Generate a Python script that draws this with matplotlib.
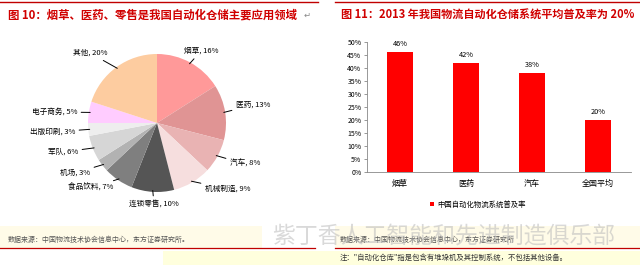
import matplotlib
matplotlib.use('Agg')
import matplotlib.pyplot as plt
from matplotlib.patches import Rectangle
import numpy as np

plt.rcParams['font.family'] = ['Noto Sans CJK SC', 'DejaVu Sans']

# pie data (fig 10)
pie_names = ['烟草', '医药', '汽车', '机械制造', '连锁零售', '食品饮料',
             '机场', '军队', '出版印刷', '电子商务', '其他']
pie_values = [16, 13, 8, 9, 10, 7, 3, 6, 3, 5, 20]
pie_colors = ['#ff9999', '#e09494', '#e9b3b3', '#f6dede', '#555555', '#7f7f7f',
              '#b2b2b2', '#d6d6d6', '#eeeeee', '#ffccff', '#fdcca0']

# bar data (fig 11)
bar_cats = ['烟草', '医药', '汽车', '全国平均']
bar_values = [46, 42, 38, 20]
bar_legend = '中国自动化物流系统普及率'

W, H = 640, 265
fig = plt.figure(figsize=(6.4, 2.65), dpi=100)
fig.patch.set_facecolor('white')

def fx(px):
    return px / W

def fy(py):
    return 1 - py / H

# background decorations
bg = fig.add_axes([0, 0, 1, 1], zorder=-5)
bg.set_xlim(0, W)
bg.set_ylim(H, 0)
bg.axis('off')
bg.add_patch(Rectangle((0, 226), 262, 22, color='#fffbe8', lw=0))
bg.add_patch(Rectangle((163, 251), 477, 14, color='#ffffdd', lw=0))
bg.add_patch(Rectangle((335, 226), 305, 22, color='#fffbe8', lw=0))
bg.plot([0, 318], [1.5, 1.5], color='#c00000', lw=1)
bg.plot([335, 640], [1.5, 1.5], color='#c00000', lw=1)
bg.plot([0, 315], [248, 248], color='#c00000', lw=0.9)
bg.plot([335, 640], [248, 248], color='#c00000', lw=0.9)

bg.text(8, 15, '图 10：烟草、医药、零售是我国自动化仓储主要应用领域',
        color='#d00000', fontsize=8.2, fontweight='bold', va='center')
bg.text(304, 15, '↵', color='#888888', fontsize=6, va='center')
bg.text(341, 15, '图 11：2013 年我国物流自动化仓储系统平均普及率为 20%',
        color='#d00000', fontsize=8, fontweight='bold', va='center')
bg.text(8, 240, '数据来源：中国物流技术协会信息中心，东方证券研究所。',
        color='#555555', fontsize=5, va='center')
bg.text(340, 240, '数据来源：中国物流技术协会信息中心，东方证券研究所',
        color='#555555', fontsize=5, va='center')
bg.text(340, 258, '注："自动化仓库"指是包含有堆垛机及其控制系统，不包括其他设备。',
        color='#333333', fontsize=5.3, va='center')
bg.text(272, 236, '紫丁香人工智能和先进制造俱乐部', color='#bbbbbb',
        fontsize=16.5, va='center', alpha=0.55, zorder=10)

# pie
cx, cy, r = 157, 123, 69
ax1 = fig.add_axes([fx(cx - r), fy(cy + r), fx(2 * r), 2 * r / H])
ax1.pie(pie_values, colors=pie_colors, startangle=90, counterclock=False,
        radius=1, wedgeprops=dict(linewidth=0))
ax1.set_xlim(-1, 1)
ax1.set_ylim(-1, 1)
ax1.set_aspect('auto')
ax1.axis('off')

# label positions (pixels) and alignment
label_pos = [(201, 51, 'center'), (236, 105, 'left'), (230, 164, 'left'),
             (205, 189, 'left'), (154, 204, 'center'), (113, 188, 'right'),
             (90, 173, 'right'), (78, 152, 'right'), (75, 132, 'right'),
             (77, 112, 'right'), (90, 53, 'center')]
start = 90.0
for name, v, (px, py, ha) in zip(pie_names, pie_values, label_pos):
    mid = np.deg2rad(start - v * 3.6 / 2)
    start -= v * 3.6
    ex, ey = np.cos(mid) * 0.98, np.sin(mid) * 0.98
    tx, ty = (px - cx) / r, (cy - py) / r
    ax1.annotate(f'{name}, {v}%', xy=(ex, ey), xytext=(tx, ty),
                 ha=ha, va='center', fontsize=5.5, annotation_clip=False,
                 arrowprops=dict(arrowstyle='-', color='black', lw=0.7,
                                 shrinkA=1, shrinkB=0))

# bar chart
ax2 = fig.add_axes([fx(367), fy(172), fx(264), 130 / H])
x = np.arange(len(bar_cats))
ax2.bar(x, bar_values, width=0.39, color='#ff0000', label=bar_legend)
for xi, v in zip(x, bar_values):
    ax2.text(xi, v + 1.5, f'{v}%', ha='center', va='bottom', fontsize=5.3)
ax2.set_xlim(-0.5, 3.5)
ax2.set_ylim(0, 50)
ax2.set_yticks(range(0, 51, 5))
ax2.set_yticklabels([f'{t}%' for t in range(0, 51, 5)])
ax2.set_xticks(x)
ax2.set_xticklabels(bar_cats)
ax2.tick_params(axis='y', labelsize=5, length=2, width=0.6, color='#888888', pad=2)
ax2.tick_params(axis='x', labelsize=5.8, length=0, pad=5)
for s in ['top', 'right']:
    ax2.spines[s].set_visible(False)
for s in ['left', 'bottom']:
    ax2.spines[s].set_color('#888888')
    ax2.spines[s].set_linewidth(0.6)
ax2.legend(loc='upper center', bbox_to_anchor=(0.42, -0.17), frameon=False,
           fontsize=5.3, handlelength=0.6, handleheight=0.6, handletextpad=0.4)

fig.savefig('out.png', dpi=100)
